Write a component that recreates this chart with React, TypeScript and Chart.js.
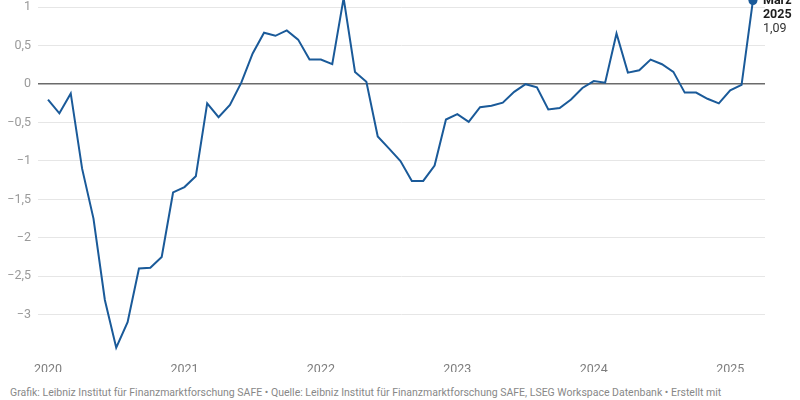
import { useEffect, useRef } from 'react'
import Chart from 'chart.js/auto'

// monthly values, Jan 2020 .. Mar 2025
const years = ['2020', '2021', '2022', '2023', '2024', '2025']
const monthNames = ['Jan', 'Feb', 'März', 'Apr', 'Mai', 'Juni', 'Juli', 'Aug', 'Sep', 'Okt', 'Nov', 'Dez']
const values2020 = [-0.2, -0.38, -0.12, -1.1, -1.75, -2.81, -3.43, -3.1, -2.4, -2.39, -2.25, -1.41]
const values2021 = [-1.34, -1.2, -0.25, -0.43, -0.27, 0.02, 0.4, 0.67, 0.63, 0.7, 0.58, 0.32]
const values2022 = [0.32, 0.26, 1.12, 0.16, 0.03, -0.68, -0.84, -1.0, -1.26, -1.26, -1.06, -0.46]
const values2023 = [-0.39, -0.49, -0.3, -0.28, -0.24, -0.1, 0.0, -0.04, -0.33, -0.31, -0.2, -0.05]
const values2024 = [0.04, 0.02, 0.66, 0.15, 0.18, 0.32, 0.26, 0.16, -0.11, -0.11, -0.19, -0.25]
const values2025 = [-0.08, -0.01, 1.09]
const yTicks = [-3, -2.5, -2, -1.5, -1, -0.5, 0, 0.5, 1]

const values = [...values2020, ...values2021, ...values2022, ...values2023, ...values2024, ...values2025]
const labels = values.map((_, i) => monthNames[i % 12] + ' ' + years[Math.floor(i / 12)])

const lineColor = '#1a5a99'
const fmt = (v: number) => String(v).replace('.', ',').replace('-', '\u2212')

const lastPointLabel = {
  id: 'lastPointLabel',
  afterDatasetsDraw(chart: any) {
    const meta = chart.getDatasetMeta(0)
    const pt = meta.data[meta.data.length - 1]
    if (!pt) return
    const last = values.length - 1
    const [month, year] = labels[last].split(' ')
    const ctx = chart.ctx
    ctx.save()
    ctx.textAlign = 'left'
    ctx.textBaseline = 'middle'
    ctx.fillStyle = '#1e1e1e'
    ctx.font = 'bold 12.5px Roboto'
    ctx.fillText(month, pt.x + 10, pt.y + 0.5)
    ctx.fillText(year, pt.x + 10, pt.y + 14.5)
    ctx.font = '12.5px Roboto'
    ctx.fillStyle = '#333'
    ctx.fillText(fmt(values[last]), pt.x + 10, pt.y + 28.5)
    ctx.restore()
  },
}

const App = () => {
  const chartRef = useRef<HTMLCanvasElement>(null)
  const chartInstanceRef = useRef<Chart | null>(null)

  useEffect(() => {
    if (!chartRef.current) return
    if (chartInstanceRef.current) chartInstanceRef.current.destroy()

    const last = values.length - 1
    chartInstanceRef.current = new Chart(chartRef.current, {
      type: 'line',
      data: {
        labels,
        datasets: [{
          data: values.map((v, i) => ({ x: i, y: v })),
          borderColor: lineColor,
          backgroundColor: lineColor,
          borderWidth: 2,
          tension: 0,
          pointRadius: (c: any) => (c.dataIndex === last ? 4.5 : 0),
          pointBorderWidth: 0,
        }],
      },
      options: {
        animation: false,
        responsive: true,
        maintainAspectRatio: false,
        layout: { padding: { top: 12, right: 35, left: 0, bottom: 0 } },
        plugins: {
          legend: { display: false },
          tooltip: { enabled: false },
        },
        scales: {
          x: {
            type: 'linear',
            min: -0.88,
            max: 63.06,
            grid: { display: false },
            border: { display: false },
            afterBuildTicks: (scale: any) => {
              scale.ticks = years.map((_, i) => ({ value: i * 12 }))
            },
            afterFit: (scale: any) => {
              scale.height = 19
              scale.paddingLeft = 0
              scale.paddingRight = 0
            },
            ticks: {
              autoSkip: false,
              maxRotation: 0,
              padding: 1,
              color: '#7d7d7d',
              font: { family: 'Roboto', size: 12.5 },
              callback: (v: any) => years[Math.round(Number(v) / 12)],
            },
          },
          y: {
            min: -3.5,
            max: 1.2,
            border: { display: false },
            afterBuildTicks: (scale: any) => {
              scale.ticks = yTicks.map(v => ({ value: v }))
            },
            afterFit: (scale: any) => {
              scale.width = 38
              scale.paddingTop = 0
              scale.paddingBottom = 0
            },
            grid: {
              drawTicks: false,
              color: (c: any) => (c.tick && c.tick.value === 0 ? '#6b6b6b' : '#e6e6e6'),
              lineWidth: (c: any) => (c.tick && c.tick.value === 0 ? 1.6 : 1),
            },
            ticks: {
              padding: 7,
              color: '#9a9a9a',
              font: { family: 'Roboto', size: 12.5 },
              callback: (v: any) => fmt(Number(v)),
            },
          },
        },
      },
      plugins: [lastPointLabel],
    })

    return () => {
      if (chartInstanceRef.current) {
        chartInstanceRef.current.destroy()
        chartInstanceRef.current = null
      }
    }
  }, [])

  return (
    <div style={{ position: 'absolute', left: 0, top: 0, width: 800, height: 400, overflow: 'hidden', background: '#fff' }}>
      <div style={{ position: 'absolute', left: 0, top: -20, width: 800, height: 392 }}>
        <canvas ref={chartRef}></canvas>
      </div>
      <div style={{ position: 'absolute', left: 10, top: 385, fontFamily: 'Roboto', fontSize: 10.5, lineHeight: '16px', color: '#888', whiteSpace: 'nowrap' }}>
        Grafik: Leibniz Institut für Finanzmarktforschung SAFE • Quelle: Leibniz Institut für Finanzmarktforschung SAFE, LSEG Workspace Datenbank • Erstellt mit
      </div>
    </div>
  )
}

export default App
